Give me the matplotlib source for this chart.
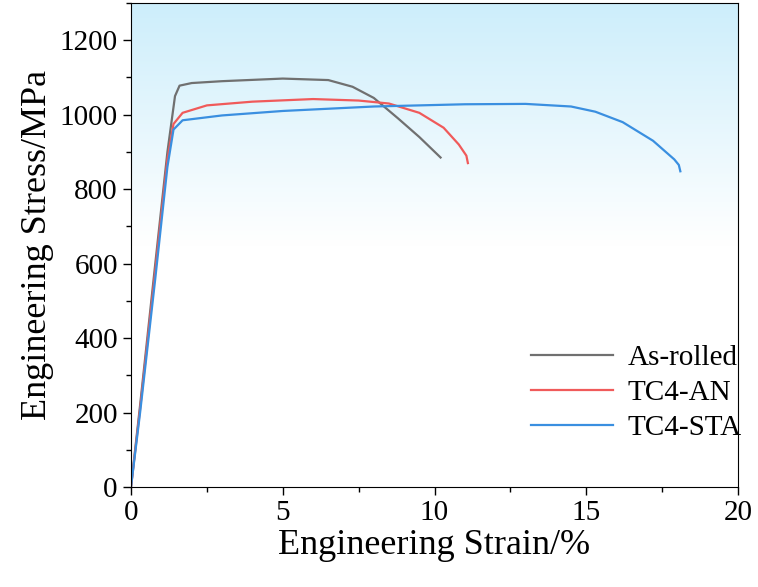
import numpy as np
import matplotlib
matplotlib.use("Agg")
import matplotlib.pyplot as plt
from matplotlib.ticker import MultipleLocator
from matplotlib.colors import LinearSegmentedColormap

plt.rcParams['font.family'] = ['Liberation Serif']

names = ["As-rolled", "TC4-AN", "TC4-STA"]
colors = ["#707070", "#f05a5a", "#3a8fe0"]
rolled_x = [0, 0.3, 0.8, 1.2, 1.45, 1.6, 2.0, 3, 5, 6.5, 7.3, 8.0, 8.8, 9.5, 10.2]
rolled_y = [0, 220, 600, 900, 1050, 1078, 1085, 1090, 1097, 1093, 1075, 1045, 990, 940, 885]
an_x = [0, 0.3, 0.8, 1.2, 1.4, 1.7, 2.5, 4, 6, 7.5, 8.5, 9.5, 10.3, 10.8, 11.05, 11.1]
an_y = [0, 210, 580, 880, 975, 1005, 1025, 1035, 1042, 1038, 1030, 1005, 965, 920, 890, 870]
sta_x = [0, 0.3, 0.8, 1.2, 1.4, 1.7, 3, 5, 8, 11, 13, 14.5, 15.3, 16.2, 17.2, 17.9, 18.05, 18.1]
sta_y = [0, 200, 560, 860, 960, 985, 998, 1010, 1022, 1028, 1029, 1022, 1008, 980, 930, 880, 865, 848]
data = [(rolled_x, rolled_y), (an_x, an_y), (sta_x, sta_y)]

fig = plt.figure(figsize=(7.58, 5.87), dpi=100)
ax = fig.add_axes([131/758, 1-487/587, 607/758, 484/587])
grad = np.linspace(0, 1, 256).reshape(-1, 1)
cmap = LinearSegmentedColormap.from_list("g", ["#ffffff", "#ffffff", "#cdeefb"])
ax.imshow(grad, aspect='auto', cmap=cmap, extent=[0, 20, 0, 1300], origin='lower', zorder=0)
for (x, y), n, c in zip(data, names, colors):
    ax.plot(x, y, color=c, lw=1.6, label=n, zorder=2)
ax.set_xlim(0, 20)
ax.set_ylim(0, 1300)
ax.xaxis.set_major_locator(MultipleLocator(5))
ax.xaxis.set_minor_locator(MultipleLocator(2.5))
ax.yaxis.set_major_locator(MultipleLocator(200))
ax.yaxis.set_minor_locator(MultipleLocator(100))
ax.tick_params(labelsize=21, direction='out', length=6, width=1)
ax.tick_params(which='minor', length=3.5, width=1)
ax.set_xlabel("Engineering Strain/%", fontsize=26, labelpad=2)
ax.set_ylabel("Engineering Stress/MPa", fontsize=26, labelpad=4)
ax.legend(loc=(0.64, 0.07), frameon=False, fontsize=21, handlelength=2.8,
          labelspacing=0.3, handletextpad=0.5)
fig.savefig("out.png", dpi=100)
